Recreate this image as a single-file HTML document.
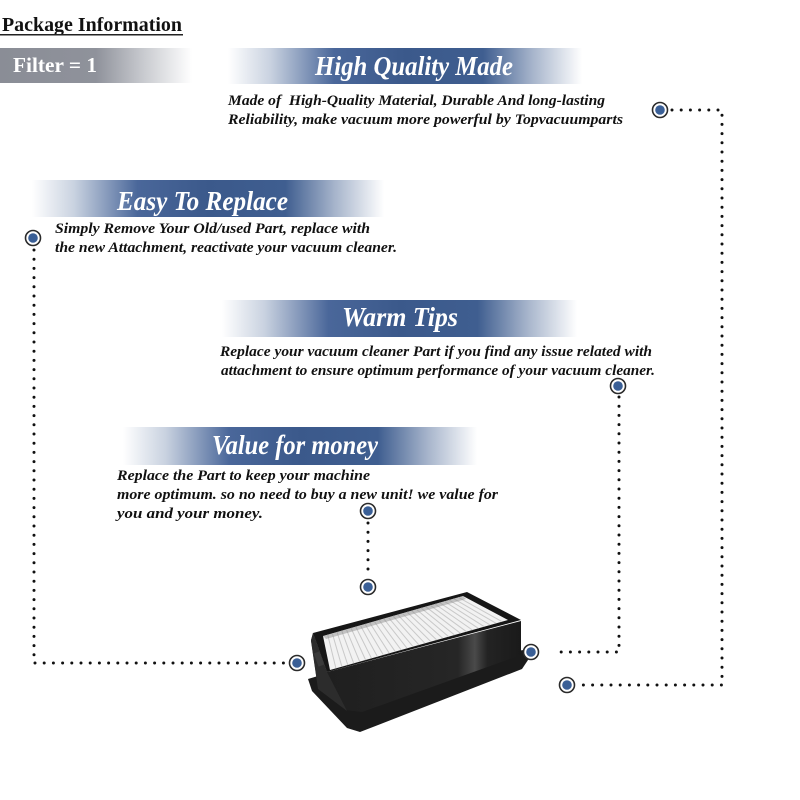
<!DOCTYPE html>
<html><head><meta charset="utf-8"><style>
html,body{margin:0;padding:0;background:#fff;}
svg{display:block;}
.h{font-family:"Liberation Serif",serif;font-weight:bold;font-style:italic;fill:#fff;font-size:27px;}
.b{font-family:"Liberation Serif",serif;font-weight:bold;font-style:italic;fill:#111;font-size:15px;white-space:pre;}
</style></head><body>
<svg width="800" height="800" viewBox="0 0 800 800" xmlns="http://www.w3.org/2000/svg">
<defs>
<linearGradient id="bl" x1="0" x2="1" y1="0" y2="0">
<stop offset="0" stop-color="#ffffff"/>
<stop offset="0.12" stop-color="#c9d2e0"/>
<stop offset="0.3" stop-color="#4a679a"/>
<stop offset="0.5" stop-color="#3b598b"/>
<stop offset="0.72" stop-color="#3f5e90"/>
<stop offset="0.86" stop-color="#a6b4cb"/>
<stop offset="1" stop-color="#ffffff"/>
</linearGradient>
<linearGradient id="gr" x1="0" x2="1" y1="0" y2="0">
<stop offset="0" stop-color="#8a8d96"/>
<stop offset="0.5" stop-color="#8f929b"/>
<stop offset="0.75" stop-color="#c9cbd0"/>
<stop offset="1" stop-color="#ffffff"/>
</linearGradient>
<linearGradient id="fr" x1="0" x2="1" y1="0" y2="0">
<stop offset="0" stop-color="#1e1e1e"/>
<stop offset="0.7" stop-color="#262626"/>
<stop offset="0.78" stop-color="#4a4a4a"/>
<stop offset="0.84" stop-color="#232323"/>
<stop offset="1" stop-color="#1a1a1a"/>
</linearGradient>
</defs>

<!-- Package Information -->
<text x="2" y="31" style="font-family:'Liberation Serif',serif;font-weight:bold;font-size:20px;fill:#111" textLength="180" lengthAdjust="spacingAndGlyphs">Package Information</text>
<rect x="0" y="34" width="183" height="1.5" fill="#222"/>

<!-- Filter banner -->
<rect x="0" y="48" width="192" height="35" fill="url(#gr)"/>
<text x="13" y="72" style="font-family:'Liberation Serif',serif;font-weight:bold;font-size:21px;fill:#fff" textLength="84" lengthAdjust="spacingAndGlyphs">Filter = 1</text>

<!-- Banners -->
<rect x="228" y="48" width="354" height="36" fill="url(#bl)"/>
<text class="h" x="315" y="75" textLength="198" lengthAdjust="spacingAndGlyphs">High Quality Made</text>

<rect x="32" y="180" width="352" height="37" fill="url(#bl)"/>
<text class="h" x="117" y="210" textLength="171" lengthAdjust="spacingAndGlyphs">Easy To Replace</text>

<rect x="222" y="300" width="355" height="37" fill="url(#bl)"/>
<text class="h" x="342" y="326" textLength="116" lengthAdjust="spacingAndGlyphs">Warm Tips</text>

<rect x="123" y="427" width="354" height="38" fill="url(#bl)"/>
<text class="h" x="212" y="454" textLength="166" lengthAdjust="spacingAndGlyphs">Value for money</text>

<!-- Body texts -->
<text class="b" x="228" y="105" textLength="377" lengthAdjust="spacingAndGlyphs">Made of  High-Quality Material, Durable And long-lasting</text>
<text class="b" x="228" y="124" textLength="395" lengthAdjust="spacingAndGlyphs">Reliability, make vacuum more powerful by Topvacuumparts</text>

<text class="b" x="55" y="233" textLength="315" lengthAdjust="spacingAndGlyphs">Simply Remove Your Old/used Part, replace with</text>
<text class="b" x="55" y="252" textLength="342" lengthAdjust="spacingAndGlyphs">the new Attachment, reactivate your vacuum cleaner.</text>

<text class="b" x="220" y="356" textLength="432" lengthAdjust="spacingAndGlyphs">Replace your vacuum cleaner Part if you find any issue related with</text>
<text class="b" x="221" y="375" textLength="434" lengthAdjust="spacingAndGlyphs">attachment to ensure optimum performance of your vacuum cleaner.</text>

<text class="b" x="117" y="480" textLength="253" lengthAdjust="spacingAndGlyphs">Replace the Part to keep your machine</text>
<text class="b" x="117" y="499" textLength="381" lengthAdjust="spacingAndGlyphs">more optimum. so no need to buy a new unit! we value for</text>
<text class="b" x="117" y="518" textLength="146" lengthAdjust="spacingAndGlyphs">you and your money.</text>

<!-- Dotted connectors -->
<g fill="none" stroke="#111" stroke-width="3" stroke-linecap="round" stroke-dasharray="0 9.2">
<polyline points="672,110 722,110 722,685 578,685"/>
<polyline points="34,250 34,663 287,663"/>
<polyline points="619,397 619,652 553,652"/>
<polyline points="368,523 368,577"/>
</g>

<!-- Filter product -->
<g>
<polygon points="308,679 312,691 347,728 360,732 522,669 528,660 524,650 480,655 318,676" fill="#1b1b1b"/>
<polygon points="313,633 327,672 521,621 521,655 362,712 346,710 318,688 311,640" fill="url(#fr)"/>
<polygon points="313,633 327,672 347,711 318,689 311,641" fill="#2c2c2c"/>
<polygon points="313,633 467,592 521,620 327,672" fill="#161616"/>
<polygon points="323,636 463,596 508,620 330,670" fill="#f2f2f2"/>
<g stroke="#c9c9c9" stroke-width="1">
<line x1="327.7" y1="634.7" x2="335.9" y2="668.3"/>
<line x1="332.3" y1="633.3" x2="341.9" y2="666.7"/>
<line x1="337" y1="632" x2="347.8" y2="665"/>
<line x1="341.7" y1="630.7" x2="353.7" y2="663.3"/>
<line x1="346.3" y1="629.3" x2="359.7" y2="661.7"/>
<line x1="351" y1="628" x2="365.6" y2="660"/>
<line x1="355.7" y1="626.7" x2="371.5" y2="658.3"/>
<line x1="360.3" y1="625.3" x2="377.5" y2="656.7"/>
<line x1="365" y1="624" x2="383.4" y2="655"/>
<line x1="369.7" y1="622.7" x2="389.3" y2="653.3"/>
<line x1="374.3" y1="621.3" x2="395.3" y2="651.7"/>
<line x1="379" y1="620" x2="401.2" y2="650"/>
<line x1="383.7" y1="618.7" x2="407.1" y2="648.3"/>
<line x1="388.3" y1="617.3" x2="413.1" y2="646.7"/>
<line x1="393" y1="616" x2="419" y2="645"/>
<line x1="397.7" y1="614.7" x2="424.9" y2="643.3"/>
<line x1="402.3" y1="613.3" x2="430.9" y2="641.7"/>
<line x1="407" y1="612" x2="436.8" y2="640"/>
<line x1="411.7" y1="610.7" x2="442.7" y2="638.3"/>
<line x1="416.3" y1="609.3" x2="448.7" y2="636.7"/>
<line x1="421" y1="608" x2="454.6" y2="635"/>
<line x1="425.7" y1="606.7" x2="460.5" y2="633.3"/>
<line x1="430.3" y1="605.3" x2="466.5" y2="631.7"/>
<line x1="435" y1="604" x2="472.4" y2="630"/>
<line x1="439.7" y1="602.7" x2="478.3" y2="628.3"/>
<line x1="444.3" y1="601.3" x2="484.3" y2="626.7"/>
<line x1="449" y1="600" x2="490.2" y2="625"/>
<line x1="453.7" y1="598.7" x2="496.1" y2="623.3"/>
<line x1="458.3" y1="597.3" x2="502.1" y2="621.7"/>
</g>
<polygon points="323,636 463,596 466,599 326,639" fill="#888" opacity="0.45"/>
<rect x="316" y="652" width="6" height="14" fill="#3a3a3a" transform="rotate(-20 319 659)"/>
</g>

<!-- Circle markers -->
<g>
<g fill="#fff" stroke="#2a2a2a" stroke-width="1.6">
<circle cx="660" cy="110" r="7.5"/>
<circle cx="33" cy="238" r="7.5"/>
<circle cx="618" cy="386" r="7.5"/>
<circle cx="368" cy="511" r="7.5"/>
<circle cx="368" cy="587" r="7.5"/>
<circle cx="297" cy="663" r="7.5"/>
<circle cx="531" cy="652" r="7.5"/>
<circle cx="567" cy="685" r="7.5"/>
</g>
<g fill="#3a5f96">
<circle cx="660" cy="110" r="4.8"/>
<circle cx="33" cy="238" r="4.8"/>
<circle cx="618" cy="386" r="4.8"/>
<circle cx="368" cy="511" r="4.8"/>
<circle cx="368" cy="587" r="4.8"/>
<circle cx="297" cy="663" r="4.8"/>
<circle cx="531" cy="652" r="4.8"/>
<circle cx="567" cy="685" r="4.8"/>
</g>
</g>
</svg>
</body></html>
